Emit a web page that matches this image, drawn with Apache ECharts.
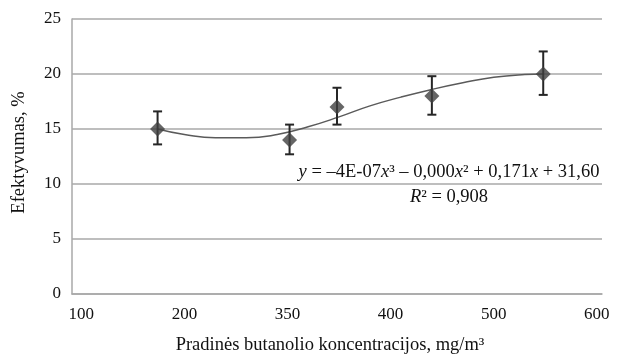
<!DOCTYPE html>
<html>
<head>
<meta charset="utf-8">
<script src="https://cdn.jsdelivr.net/npm/echarts@6/dist/echarts.min.js"></script>
<style>
  html, body { margin: 0; padding: 0; background: #fff; }
  #chart { width: 623px; height: 360px; }
</style>
</head>
<body>
<div id="chart"></div>
<script>
// measured points
const concX = [174, 302, 348, 440, 548];
const effY = [15, 14, 17, 18, 20];
const errLow = [13.6, 12.7, 15.4, 16.3, 18.1];
const errHigh = [16.6, 15.4, 18.75, 19.8, 22.05];

// trend curve
const trendX = [174, 200, 230, 260, 290, 320, 350, 380, 410, 440, 470, 500, 530, 548];
const trendY = [15.0, 14.5, 14.2, 14.2, 14.5, 15.2, 16.1, 17.1, 17.9, 18.6, 19.2, 19.7, 19.95, 20.0];

// x tick labels as printed in the original
const xTicks = [100, 200, 300, 400, 500, 600];
const xLabels = ['100', '200', '350', '400', '500', '600'];
const yTicks = [0, 5, 10, 15, 20, 25];

const font = 'Liberation Serif, Times New Roman, serif';
const gridColor = '#a8a8a8';
const txt = '#111';

let myChart = echarts.init(document.getElementById('chart'));

let option = {
  animation: false,
  backgroundColor: '#fff',
  textStyle: { fontFamily: font },
  grid: { left: 72, right: 21, top: 19, bottom: 64 },
  xAxis: {
    type: 'value',
    min: 91,
    max: 605,
    name: 'Pradinės butanolio koncentracijos, mg/m³',
    nameLocation: 'middle',
    nameGap: 42,
    nameTextStyle: { fontFamily: font, fontSize: 18.5, color: txt, padding: [0, 14, 0, 0] },
    axisLine: { show: true, lineStyle: { color: gridColor, width: 1.5 } },
    axisTick: { show: false },
    splitLine: { show: false },
    axisLabel: {
      customValues: xTicks,
      fontFamily: font,
      fontSize: 17,
      color: txt,
      margin: 12,
      formatter: function (v) {
        let i = xTicks.indexOf(v);
        return i >= 0 ? xLabels[i] : '';
      }
    }
  },
  yAxis: {
    type: 'value',
    min: yTicks[0],
    max: yTicks[yTicks.length - 1],
    interval: 5,
    name: 'Efektyvumas, %',
    nameLocation: 'middle',
    nameGap: 43,
    nameTextStyle: { fontFamily: font, fontSize: 18.5, color: txt, padding: [0, 0, 0, 8] },
    axisLine: { show: true, lineStyle: { color: gridColor, width: 1.5 } },
    axisTick: { show: false },
    splitLine: { show: true, lineStyle: { color: gridColor, width: 1.5 } },
    axisLabel: { fontFamily: font, fontSize: 17, color: txt, margin: 11 }
  },
  graphic: [{
    type: 'text',
    x: 449,
    y: 160,
    style: {
      x: 0,
      y: 0,
      align: 'center',
      text: '{i|y} = –4E-07{i|x}³ – 0,000{i|x}² + 0,171{i|x} + 31,60\n{i|R}² = 0,908',
      font: '18.5px ' + font,
      fill: txt,
      lineHeight: 25,
      rich: {
        i: { fontFamily: font, fontSize: 18.5, fontStyle: 'italic', fill: txt, lineHeight: 25 }
      }
    }
  }],
  series: [{
    type: 'line',
    smooth: true,
    symbol: 'none',
    silent: true,
    lineStyle: { color: '#5a5a5a', width: 1.5 },
    data: trendX.map((x, i) => [x, trendY[i]]),
    z: 2
  }, {
    type: 'custom',
    silent: true,
    data: concX.map((x, i) => [x, errLow[i], errHigh[i]]),
    renderItem: function (params, api) {
      let lo = api.coord([api.value(0), api.value(1)]);
      let hi = api.coord([api.value(0), api.value(2)]);
      let cap = 4.5;
      let st = { stroke: '#262626', lineWidth: 2 };
      return {
        type: 'group',
        children: [
          { type: 'line', shape: { x1: lo[0], y1: lo[1], x2: hi[0], y2: hi[1] }, style: st },
          { type: 'line', shape: { x1: lo[0] - cap, y1: lo[1], x2: lo[0] + cap, y2: lo[1] }, style: st },
          { type: 'line', shape: { x1: hi[0] - cap, y1: hi[1], x2: hi[0] + cap, y2: hi[1] }, style: st }
        ]
      };
    },
    z: 3
  }, {
    type: 'scatter',
    symbol: 'diamond',
    symbolSize: 15,
    itemStyle: { color: '#404040' },
    data: concX.map((x, i) => [x, effY[i]]),
    z: 4
  }]
};

myChart.setOption(option);
</script>
</body>
</html>
